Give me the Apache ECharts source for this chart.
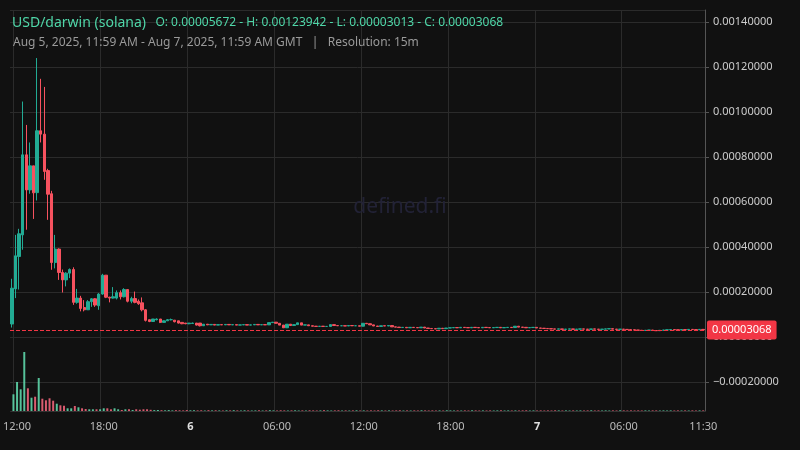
<!DOCTYPE html>
<html><head><meta charset="utf-8">
<script src="https://cdn.jsdelivr.net/npm/echarts@6/dist/echarts.min.js"></script>
<style>html,body{margin:0;padding:0;background:#111111;}#c{width:800px;height:450px;}</style>
</head><body><div id="c"></div>
<script>
// prices in units of 1e-5
const headOpen  = [5.672,21.3,35.7,45.3,80.9,65.3,76.0,64.1,91.6,90.1,73.9,63.6,33.0,39.0,28.6,25.3,28.3,29.9,15.3,17.2,13.0,12.0,15.6,16.9,13.8,19.0,27.4,17.6,17.2,17.2,19.6,17.8,21.0,15.8,17.0,15.8,15.1,12.0,7.6,6.8,7.6,7.9,6.4,7.1,7.6,7.4,7.1,6.4,6.1,5.8,5.9,6.1,6.1];
const headClose = [21.6,36.0,45.8,80.9,65.3,76.0,64.0,91.6,90.1,73.5,63.4,33.0,39.0,28.6,25.3,28.3,29.9,15.3,17.2,12.6,12.0,15.6,16.9,14.1,19.0,27.4,17.6,17.2,17.8,19.6,17.8,21.0,15.8,17.0,15.3,14.7,12.0,7.3,6.8,7.9,7.9,6.4,7.1,7.6,7.6,6.7,6.1,5.8,5.8,6.1,6.1,5.2,4.9];
const headLow   = [4.1,17.2,21.0,38.7,47.6,63.6,52.4,60.6,86.4,69.8,52.0,29.8,30.4,25.3,19.7,22.4,26.1,14.2,14.7,11.3,11.3,12.0,13.3,13.3,12.0,18.7,17.2,15.3,17.0,16.6,16.6,17.5,15.3,14.9,14.9,14.2,11.3,6.8,6.5,6.8,7.3,6.1,6.4,7.1,7.3,6.4,5.9,5.6,5.6,5.6,5.8,5.0,4.6];
const headHigh  = [25.8,45.3,48.0,104.6,94.2,86.4,76.0,123.942,114.7,111.1,74.7,64.9,45.3,39.3,29.9,28.7,30.4,30.9,21.3,18.2,16.3,16.3,17.2,17.2,19.4,28.0,27.4,17.8,22.1,20.6,20.6,21.6,21.0,17.8,20.1,16.6,17.5,12.3,7.6,7.9,8.2,7.9,7.3,7.9,8.1,7.4,7.1,6.4,6.1,6.1,6.3,6.1,6.1];
const tailClose = [5.6,5.3,5.5,5.2,5.4,5.3,5.5,
  5.3,5.4,5.2,5.3,5.4,5.2,5.3,5.5,5.3,5.4,5.3,
  6.3,6.5,6.0,5.2,4.0,5.6,5.0,5.4,6.2,5.2,5.3,4.9,4.7,4.6,4.7,4.6,4.6,5.4,5.0,4.9,4.9,4.8,5.0,4.9,4.9,4.7,
  6.0,5.8,5.3,4.8,4.6,4.9,4.8,5.0,4.4,4.3,4.1,4.2,4.0,4.2,4.1,4.0,4.3,3.9,3.7,3.6,3.5,3.8,3.6,3.9,4.0,
  4.1,4.0,4.2,4.1,4.0,4.2,4.1,4.0,4.2,4.1,4.0,4.1,4.2,4.0,4.1,4.2,4.1,
  4.7,4.3,4.2,4.0,4.1,4.2,3.9,3.8,3.7,3.6,
  3.5,3.4,3.5,3.3,3.4,3.5,3.3,3.4,3.5,3.4,3.3,3.5,3.4,3.3,3.4,3.5,3.6,3.4,3.3,3.4,3.3,3.2,
  3.1,3.0,2.9,2.8,2.9,3.0,2.8,2.7,2.9,3.0,3.1,3.2,3.1,3.0,3.2,3.1,3.3,3.2,3.1,3.3,3.068];
const headVol = [16.7,29,21.7,59,22.7,13.3,14.3,33,12.3,10.7,12.7,10.3,7.3,5.7,5.3,2.7,2.7,5,3.7,2.7,2,1.7,1.7,1.7,1.7,2.7,2.7,1.7,2.7,1.7,1.0,1.7,1.7,1.0,1.7,1.3,1.7,1.7];
const tailVol = [1.2,0.9,1.0,0.8,0.7,0.9,0.6,0.8,0.7,0.6,0.9,0.7,0.8,0.6,0.7,0.5,0.8,0.6,0.7,0.6,
  0.5,0.7,0.6,0.8,0.6,0.5,0.7,0.6,0.5,0.6,0.7,0.5,0.6,0.8,0.6,0.5,0.7,0.6,0.5,0.6,
  0.7,0.5,0.6,0.5,0.7,0.6,0.5,0.6,0.8,0.6,0.5,0.6,0.7,0.5,0.6,0.5,0.6,0.7,0.5,0.6,
  0.5,0.6,0.5,0.7,0.6,0.5,0.6,0.5,0.6,0.7,0.5,0.6,0.5,0.6,0.5,0.7,0.6,0.5,0.6,0.5,
  0.6,0.5,0.7,0.6,0.5,0.6,0.5,0.6,0.5,0.7,0.6,0.5,0.6,0.5,0.6,0.5,0.6,0.7,0.5,0.6,
  0.5,0.6,0.5,0.6,0.7,0.5,0.6,0.5,0.6,0.5,0.6,0.5,0.7,0.6,0.5,0.6,0.5,0.6,0.5,0.6,
  0.5,0.6,0.7,0.5,0.6,0.5,0.6,0.5,0.6,0.5,0.7,0.6,0.5,0.6,0.5,0.6,0.5,0.6,0.5,0.6,
  0.6,0.5,0.6,0.5,0.6,0.5,0.6,0.5,0.6,0.5,0.6,0.5,0.6,0.6];
const startTime = Date.UTC(2025,7,5,11,45);
const stepMin = 15;
const lastPrice = 0.00003068;
const titleMain = 'USD/darwin (solana)';
const titleOHLC = 'O: 0.00005672 - H: 0.00123942 - L: 0.00003013 - C: 0.00003068';
const subtitle = 'Aug 5, 2025, 11:59 AM - Aug 7, 2025, 11:59 AM GMT   |   Resolution: 15m';

const opens = headOpen.slice(), closes = headClose.slice(), lows = headLow.slice(), highs = headHigh.slice();
tailClose.forEach(c => {
  const o = closes[closes.length-1];
  opens.push(o); closes.push(c); lows.push(Math.min(o,c)); highs.push(Math.max(o,c));
});
const n = closes.length;
const cats = [];
for (let i=0;i<n;i++) cats.push(new Date(startTime + i*stepMin*60000));
const candle = cats.map((_,i)=>[opens[i]*1e-5, closes[i]*1e-5, lows[i]*1e-5, highs[i]*1e-5]);
const vols = headVol.concat(tailVol).slice(0,n);
const GREEN='#22ab94', RED='#f7525f';
const volData = vols.map((v,i)=>({value:v, itemStyle:{color: closes[i]>=opens[i] ? 'rgba(94,214,170,0.9)' : 'rgba(240,100,122,0.9)'}}));
const pad = x => (x<10?'0':'')+x;
const isTick = i => { const d=cats[i]; return d.getUTCMinutes()===0 && d.getUTCHours()%6===0; };
const catLabels = cats.map((d,i)=>{
  if (d.getUTCHours()===0 && d.getUTCMinutes()===0) return '{b|'+d.getUTCDate()+'}';
  if (isTick(i) || i===n-1) return pad(d.getUTCHours())+':'+pad(d.getUTCMinutes());
  return '';
});

const chart = echarts.init(document.getElementById('c'), null, {renderer:'canvas'});
chart.setOption({
  backgroundColor:'#111111',
  animation:false,
  textStyle:{fontFamily:'Noto Sans'},
  title:[
    {text:'{a|'+titleMain+'}  {o|'+titleOHLC+'}', left:7, top:9, textStyle:{fontWeight:'normal',rich:{a:{fontSize:14,color:'#4fd6a8',fontFamily:'Noto Sans',fontWeight:'normal'},o:{fontSize:12,color:'#4fd6a8',fontFamily:'Noto Sans',fontWeight:'normal'}}}},
    {text:subtitle, left:8, top:32, textStyle:{fontSize:12,color:'#9a9a9a',fontWeight:'normal',fontFamily:'Noto Sans'}},
    {text:'defined.fi', left:'center', top:192, textStyle:{fontSize:21,color:'#222236',fontWeight:'normal',fontFamily:'Noto Sans'}}
  ],
  grid:[
    {left:10,right:95,top:10,bottom:39},
    {left:10,right:95,top:10,bottom:39}
  ],
  xAxis:[
    {type:'category',gridIndex:0,data:catLabels,boundaryGap:true,axisLine:{show:false},axisTick:{show:false},axisLabel:{show:false},
     splitLine:{show:true,interval:(i)=>isTick(i),lineStyle:{color:'#2b2b2b'}}},
    {type:'category',gridIndex:1,data:catLabels,boundaryGap:true,axisLine:{show:true,lineStyle:{color:'#333'}},axisTick:{show:false},
     axisLabel:{interval:(i)=>catLabels[i]!=='',color:'#bbbbbb',fontSize:11,margin:10,rich:{b:{fontWeight:'bold',color:'#e0e0e0',fontSize:11}}},
     splitLine:{show:false}}
  ],
  yAxis:[
    {type:'value',gridIndex:0,position:'right',min:-0.00033,max:0.001453,splitNumber:9,
     axisLine:{show:true,lineStyle:{color:'#555'}},axisTick:{show:true,length:4,lineStyle:{color:'#555'}},
     axisLabel:{color:'#cccccc',fontSize:11,margin:8,showMinLabel:false,showMaxLabel:false,formatter:v=>(v<0?'\u2212':'')+Math.abs(v).toFixed(8)},
     splitLine:{lineStyle:{color:'#2b2b2b'}}},
    {type:'value',gridIndex:1,min:0,max:401,show:false,splitLine:{show:false}}
  ],
  series:[
    {type:'bar',xAxisIndex:1,yAxisIndex:1,data:volData,barWidth:'55%'},
    {type:'candlestick',xAxisIndex:0,yAxisIndex:0,data:candle,barWidth:'80%',
     itemStyle:{color:GREEN,color0:RED,borderColor:GREEN,borderColor0:RED,borderWidth:1},
     markLine:{symbol:'none',silent:true,precision:8,data:[{yAxis:lastPrice}],
       lineStyle:{color:'#f23645',type:'dashed',width:1},
       label:{position:'end',distance:2,formatter:()=>lastPrice.toFixed(8),color:'#ffffff',backgroundColor:'#f23645',padding:[4,5],fontSize:11,borderRadius:2}}}
  ]
});
</script></body></html>
